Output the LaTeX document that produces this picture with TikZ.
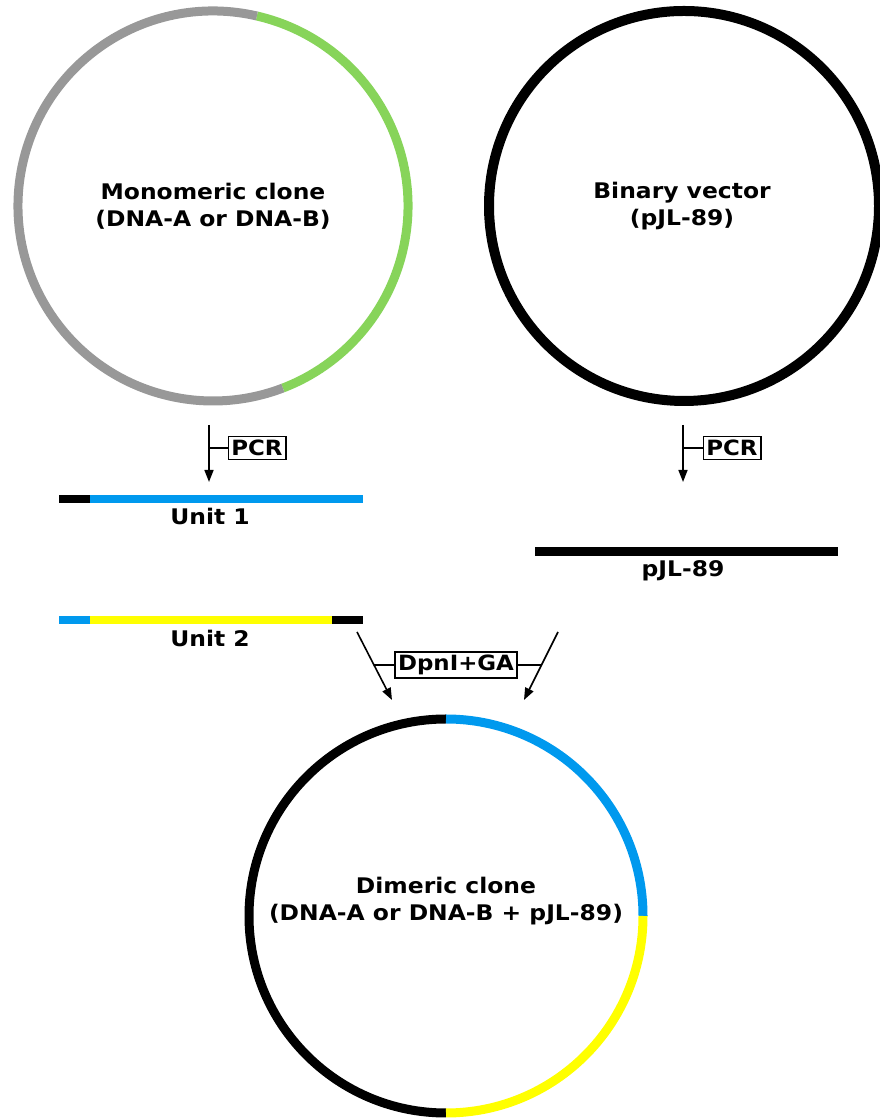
\documentclass[tikz,border=0pt]{standalone}
\usepackage{fontspec}
\setmainfont[FakeStretch=1.09]{DejaVu Sans}
\usetikzlibrary{arrows.meta,calc}
\definecolor{dnagray}{RGB}{152,152,152}
\definecolor{dnagreen}{RGB}{135,212,90}
\definecolor{dnablue}{RGB}{0,153,238}
\definecolor{dnayellow}{RGB}{255,255,0}
\tikzset{
  ring/.style={line width=9pt},
  bar/.style={line width=8pt},
  lbl/.style={font=\fontsize{21.5}{27}\selectfont\bfseries, inner sep=0pt, align=center},
  tagbox/.style={draw, line width=1.8pt, font=\fontsize{21}{24}\selectfont\bfseries, inner sep=3pt, minimum height=23pt},
  flow/.style={line width=1.6pt, -{Triangle[length=12pt,width=9pt]}},
  branch/.style={line width=1.6pt}
}
\begin{document}
\begin{tikzpicture}[x=1pt,y=1pt]
\useasboundingbox (0,0) rectangle (879,1118);
% centres
\coordinate (c1) at (213,912);
\coordinate (c2) at (684,912);
\coordinate (c3) at (446,202);
% monomeric clone ring
\draw[ring,dnagreen] ($(c1)+(77:195)$) arc[start angle=77,end angle=-69,radius=195];
\draw[ring,dnagray] ($(c1)+(77:195)$) arc[start angle=77,end angle=291,radius=195];
\node[lbl] (mono) at (213,912) {Monomeric clone\\(DNA-A or DNA-B)};
% binary vector ring
\draw[line width=10pt,black] (c2) circle[radius=195];
\node[lbl] (bin) at (682,912) {Binary vector\\(pJL-89)};
% dimeric ring
\draw[ring,black] ($(c3)+(90:197)$) arc[start angle=90,end angle=270,radius=197];
\draw[ring,dnablue] ($(c3)+(90:197)$) arc[start angle=90,end angle=0,radius=197];
\draw[ring,dnayellow] ($(c3)+(0:197)$) arc[start angle=0,end angle=-90,radius=197];
\node[lbl] (dim) at (446,217) {Dimeric clone\\(DNA-A or DNA-B + pJL-89)};
% PCR 1
\coordinate (p1s) at (209,693);
\coordinate (p1e) at (209,636);
\draw[flow] (p1s) -- (p1e);
\node[tagbox] (pcr1) at (257,670) {PCR};
\draw[branch] (pcr1.west) -- (pcr1.west -| p1s);
% PCR 2
\coordinate (p2s) at (683,693);
\coordinate (p2e) at (683,636);
\draw[flow] (p2s) -- (p2e);
\node[tagbox] (pcr2) at (732,670) {PCR};
\draw[branch] (pcr2.west) -- (pcr2.west -| p2s);
% Unit 1
\coordinate (u1a) at (59,619);
\coordinate (u1b) at (90,619);
\coordinate (u1c) at (363,619);
\draw[bar,black] (u1a) -- (u1b);
\draw[bar,dnablue] (u1b) -- (u1c);
\node[lbl,anchor=base] (u1) at (210,593) {Unit 1};
% Unit 2
\coordinate (u2a) at (59,498);
\coordinate (u2b) at (90,498);
\coordinate (u2c) at (332,498);
\coordinate (u2d) at (363,498);
\draw[bar,dnablue] (u2a) -- (u2b);
\draw[bar,dnayellow] (u2b) -- (u2c);
\draw[bar,black] (u2c) -- (u2d);
\node[lbl,anchor=base] (u2) at (210,471) {Unit 2};
% pJL-89 linear
\coordinate (va) at (535,566);
\coordinate (vb) at (838,566);
\draw[line width=9pt,black] (va) -- (vb);
\node[lbl,anchor=base] (vl) at (683,541) {pJL-89};
% DpnI+GA
\coordinate (l1s) at (357,486);
\coordinate (l1e) at (392,418);
\coordinate (l2s) at (558,486);
\coordinate (l2e) at (524,418);
\draw[flow] (l1s) -- (l1e);
\draw[flow] (l2s) -- (l2e);
\node[tagbox] (ga) at (456,453) {DpnI+GA};
\draw[branch] (ga.west) -- ($(l1s)!0.485!(l1e)$);
\draw[branch] (ga.east) -- ($(l2s)!0.485!(l2e)$);
\end{tikzpicture}
\end{document}
